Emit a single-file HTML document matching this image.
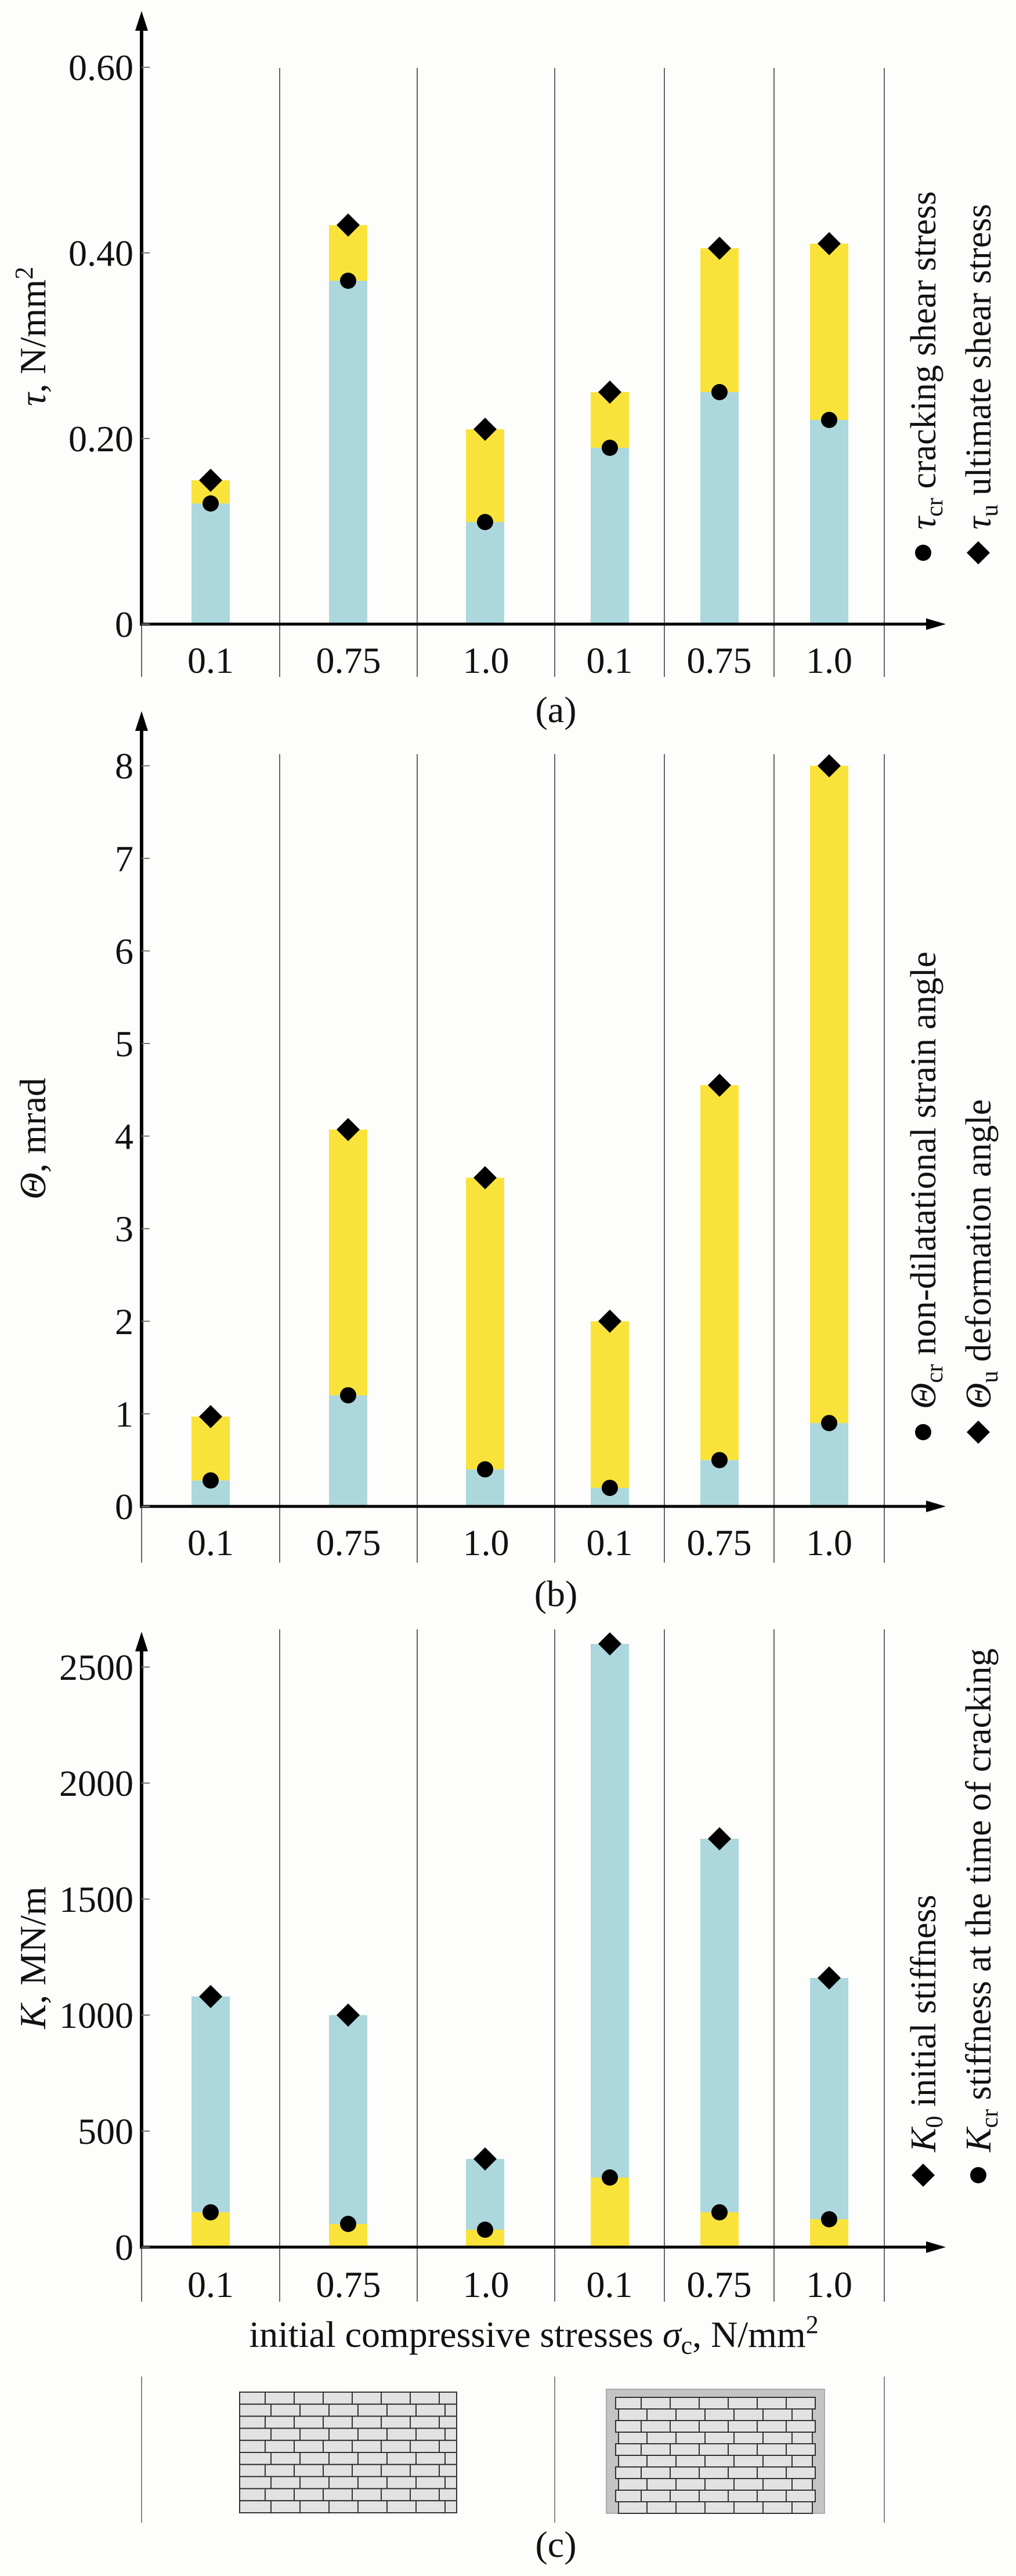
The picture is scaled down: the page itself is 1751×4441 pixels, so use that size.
<!DOCTYPE html>
<html><head><meta charset="utf-8"><style>
html,body{margin:0;padding:0;background:#fdfdfb}
svg{display:block}
text{font-family:"Liberation Serif",serif;fill:#111}
</style></head><body>
<svg id="chart" width="1751" height="4441" viewBox="0 0 1751 4441" xmlns="http://www.w3.org/2000/svg">
<rect x="0" y="0" width="1751" height="4441" fill="#fdfdfb"/>
<g id="layer"></g>
</svg>
<script>
// shared categories
const categories = ["0.1","0.75","1.0","0.1","0.75","1.0"];
// panel a: shear stress
const tauCr = [0.13,0.37,0.11,0.19,0.25,0.22];
const tauU  = [0.155,0.43,0.21,0.25,0.405,0.41];
const tauTicks = [0,0.2,0.4,0.6];
const tauTickLabels = ["0","0.20","0.40","0.60"];
// panel b: angles
const thetaCr = [0.28,1.2,0.4,0.2,0.5,0.9];
const thetaU  = [0.97,4.07,3.55,2.0,4.55,8.0];
const thetaTicks = [0,1,2,3,4,5,6,7,8];
const thetaTickLabels = ["0","1","2","3","4","5","6","7","8"];
// panel c: stiffness
const kCr = [150,100,75,300,150,120];
const k0  = [1080,1000,380,2600,1760,1160];
const kTicks = [0,500,1000,1500,2000,2500];
const kTickLabels = ["0","500","1000","1500","2000","2500"];

const NS="http://www.w3.org/2000/svg";
const layer=document.getElementById('layer');
function mk(tag,attrs,parent){const e=document.createElementNS(NS,tag);for(const k in attrs)e.setAttribute(k,attrs[k]);(parent||layer).appendChild(e);return e;}

const AX=244, AXEND=1630;
const dividers=[482,719,956,1145,1334,1524];
const centers=[363,600,836,1051,1240,1429];
const BW=66;
const BLUE="#acd7dd", YEL="#f9e33b";

function diamond(cx,cy,g){const s=20;const p=mk('polygon',{points:`${cx},${cy-s} ${cx+s},${cy} ${cx},${cy+s} ${cx-s},${cy}`,fill:'#000'},g);return p;}

function panel(cfg){
  const g=mk('g',{});
  
  
  const y=v=>cfg.y0-(v-cfg.min)*cfg.scale;
  // dividers
  [AX].concat(dividers).forEach((x,i)=>{
    const l=mk('line',{x1:x,x2:x,y1:i===0?cfg.y0:cfg.divTop,y2:cfg.divBot,stroke:'#666','stroke-width':2},g);
    
    
  });
  // bars
  for(let i=0;i<categories.length;i++){
    const lo=cfg.lower[i], hi=cfg.upper[i];
    const b1=mk('rect',{x:centers[i]-BW/2,y:y(lo),width:BW,height:cfg.y0-y(lo),fill:cfg.lowColor},g);
    
    
    const b2=mk('rect',{x:centers[i]-BW/2,y:y(hi),width:BW,height:y(lo)-y(hi),fill:cfg.highColor},g);
    
    
  }
  // markers
  for(let i=0;i<categories.length;i++){
    const c=mk('circle',{cx:centers[i],cy:y(cfg.circ[i]),r:14,fill:'#000'},g);
    
    
    const d=diamond(centers[i],y(cfg.diam[i]),g);
    
    
  }
  // axes
  const ya=mk('line',{x1:AX,x2:AX,y1:cfg.y0+2,y2:cfg.arrowTop+30,stroke:'#000','stroke-width':6},g);
  
  
  mk('polygon',{points:`${AX-11},${cfg.arrowTop+34} ${AX},${cfg.arrowTop} ${AX+11},${cfg.arrowTop+34}`,fill:'#000'},g);
  const xa=mk('line',{x1:AX-3,x2:AXEND-30,y1:cfg.y0,y2:cfg.y0,stroke:'#000','stroke-width':5},g);
  
  
  mk('polygon',{points:`${AXEND-34},${cfg.y0-10} ${AXEND},${cfg.y0} ${AXEND-34},${cfg.y0+10}`,fill:'#000'},g);
  // ticks
  cfg.ticks.forEach((t,i)=>{
    mk('line',{x1:AX,x2:AX+14,y1:y(t),y2:y(t),stroke:'#777','stroke-width':2},g);
    const tx=mk('text',{x:AX-14,y:y(t)+22,'text-anchor':'end','font-size':64},g);
    tx.textContent=cfg.tickLabels[i];
    
    
  });
  // category labels
  categories.forEach((c,i)=>{
    const lx=(([AX].concat(dividers))[i]+dividers[i])/2;
    const tx=mk('text',{x:lx,y:cfg.labY+22,'text-anchor':'middle','font-size':64},g);
    tx.textContent=c;
    
    
  });
  return {g,y};
}

// Panel a
const pa=panel({name:'panel-a-shear-stress',y0:1076,min:0,scale:1600,divTop:117,divBot:1167,arrowTop:19,labY:1138,
  lower:tauCr,upper:tauU,circ:tauCr,diam:tauU,lowColor:BLUE,highColor:YEL,ticks:tauTicks,tickLabels:tauTickLabels});
// Panel b
const pb=panel({name:'panel-b-angle',y0:2597,min:0,scale:159.6,divTop:1300,divBot:2694,arrowTop:1226,labY:2659,
  lower:thetaCr,upper:thetaU,circ:thetaCr,diam:thetaU,lowColor:BLUE,highColor:YEL,ticks:thetaTicks,tickLabels:thetaTickLabels});
// Panel c
const pc=panel({name:'panel-c-stiffness',y0:3874,min:0,scale:0.4,divTop:2809,divBot:3968,arrowTop:2813,labY:3938,
  lower:kCr,upper:k0,circ:kCr,diam:k0,lowColor:YEL,highColor:BLUE,ticks:kTicks,tickLabels:kTickLabels});
</script>
<svg width="0" height="0"></svg>
<script>
const svgEl=document.getElementById('chart');
function addT(html,attrs,name){const e=document.createElementNS(NS,'text');for(const k in attrs)e.setAttribute(k,attrs[k]);e.innerHTML=html;svgEl.appendChild(e);return e;}
function rot(x,y){return `translate(${x},${y}) rotate(-90)`;}
// y axis titles
addT('<tspan font-style="italic">τ</tspan>,  N/mm<tspan dy="-22" font-size="44">2</tspan>',{transform:rot(78,580),'text-anchor':'middle','font-size':64},'y-axis-title-a');
addT('<tspan font-style="italic">Θ</tspan>,  mrad',{transform:rot(78,1963),'text-anchor':'middle','font-size':64},'y-axis-title-b');
addT('<tspan font-style="italic">K</tspan>,  MN/m',{transform:rot(78,3375),'text-anchor':'middle','font-size':64},'y-axis-title-c');
// panel captions
addT('(a)',{x:958,y:1245,'text-anchor':'middle','font-size':64},'caption-a');
addT('(b)',{x:958,y:2769,'text-anchor':'middle','font-size':64},'caption-b');
addT('(c)',{x:958,y:4408,'text-anchor':'middle','font-size':64},'caption-c');
addT('initial compressive stresses <tspan font-style="italic">σ</tspan><tspan font-size="44" dy="12">c</tspan><tspan dy="-12">,  N/mm</tspan><tspan dy="-24" font-size="44">2</tspan>',{x:920,y:4046,'text-anchor':'middle','font-size':64},'x-axis-title');
// legends
function leg(x,y,marker,html,name){
  const g=document.createElementNS(NS,'g');svgEl.appendChild(g);
  if(marker==='c'){const c=document.createElementNS(NS,'circle');c.setAttribute('cx',x);c.setAttribute('cy',y);c.setAttribute('r',14);g.appendChild(c);}
  else{const p=document.createElementNS(NS,'polygon');p.setAttribute('points',`${x},${y-20} ${x+20},${y} ${x},${y+20} ${x-20},${y}`);g.appendChild(p);}
  const t=document.createElementNS(NS,'text');t.setAttribute('transform',rot(x+21,y-40));t.setAttribute('font-size',62);t.innerHTML=html;g.appendChild(t);
}
leg(1591,953,'c','<tspan font-style="italic">τ</tspan><tspan font-size="42" dy="12">cr</tspan><tspan dy="-12"> cracking shear stress</tspan>','legend-tau-cr');
leg(1686,953,'d','<tspan font-style="italic">τ</tspan><tspan font-size="42" dy="12">u</tspan><tspan dy="-12"> ultimate shear stress</tspan>','legend-tau-u');
leg(1591,2469,'c','<tspan font-style="italic">Θ</tspan><tspan font-size="42" dy="12">cr</tspan><tspan dy="-12"> non-dilatational strain angle</tspan>','legend-theta-cr');
leg(1686,2469,'d','<tspan font-style="italic">Θ</tspan><tspan font-size="42" dy="12">u</tspan><tspan dy="-12"> deformation angle</tspan>','legend-theta-u');
leg(1591,3750,'d','<tspan font-style="italic">K</tspan><tspan font-size="42" dy="12">0</tspan><tspan dy="-12">  initial stiffness</tspan>','legend-k0');
leg(1686,3750,'c','<tspan font-style="italic">K</tspan><tspan font-size="42" dy="12">cr</tspan><tspan dy="-12"> stiffness at the time of cracking</tspan>','legend-kcr');
// brick section dividers
[244,956,1524].forEach(x=>{const l=document.createElementNS(NS,'line');l.setAttribute('x1',x);l.setAttribute('x2',x);l.setAttribute('y1',4097);l.setAttribute('y2',4349);l.setAttribute('stroke','#888');l.setAttribute('stroke-width',2);svgEl.appendChild(l);});
// brick walls
function wall(x0,x1,y0,y1,framed,name){
  const g=document.createElementNS(NS,'g');svgEl.appendChild(g);
  function r(x,y,w,h,f,s,sw){const e=document.createElementNS(NS,'rect');e.setAttribute('x',x);e.setAttribute('y',y);e.setAttribute('width',w);e.setAttribute('height',h);e.setAttribute('fill',f);if(s){e.setAttribute('stroke',s);e.setAttribute('stroke-width',sw);}g.appendChild(e);}
  let bx0=x0,bx1=x1,by0=y0;
  if(framed){r(x0,y0,x1-x0,y1-y0,'#c4c4c4','#999',1.5);bx0=x0+16;bx1=x1-16;by0=y0+14;}
  else{r(x0,y0,x1-x0,y1-y0,'#e2e2e2','#444',2);}
  const rows=10;const rh=(y1-by0)/rows;
  for(let i=0;i<rows;i++){
    const ry=by0+i*rh;
    const off=(i%2===0)?0:10;
    const xa=bx0+(framed&&i%2===1?5:0), xb=bx1-(framed&&i%2===1?5:0);
    r(xa,ry,xb-xa,rh,'#e2e2e2','#333',2);
    for(let x=bx0+44+off;x<xb-8;x+=50){const l=document.createElementNS(NS,'line');l.setAttribute('x1',x);l.setAttribute('x2',x);l.setAttribute('y1',ry);l.setAttribute('y2',ry+rh);l.setAttribute('stroke','#333');l.setAttribute('stroke-width',2);g.appendChild(l);}
  }
}
wall(413,787,4124,4332,false,'brick-wall-unconfined');
wall(1045,1421,4119,4333,true,'brick-wall-confined');
</script>
</body></html>
